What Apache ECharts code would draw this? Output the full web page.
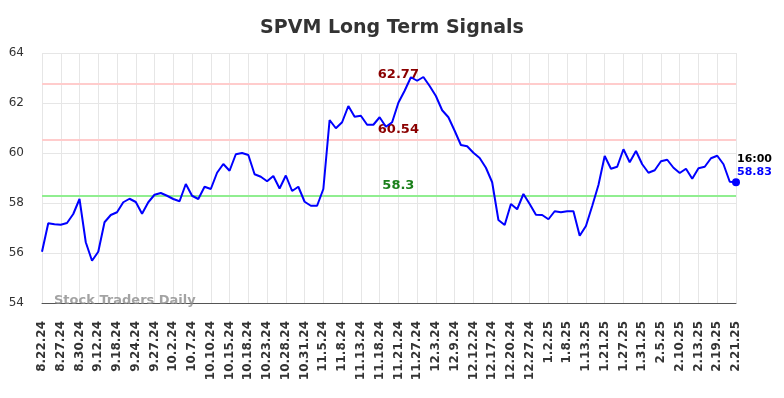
<!DOCTYPE html>
<html>
<head>
<meta charset="utf-8">
<script src="https://cdn.jsdelivr.net/npm/echarts@6/dist/echarts.min.js"></script>
<style>
  html, body { margin: 0; padding: 0; background: #fff; }
  #main { width: 784px; height: 398px; }
</style>
</head>
<body>
<div id="main"></div>
<script>
// dates (every 3rd one is shown on the axis)
const dates = [
  '8.22.24', '8.23.24', '8.26.24', '8.27.24', '8.28.24', '8.29.24', '8.30.24', '9.10.24', '9.11.24',
  '9.12.24', '9.13.24', '9.16.24', '9.18.24', '9.19.24', '9.23.24', '9.24.24', '9.25.24', '9.26.24',
  '9.27.24', '9.30.24', '10.1.24', '10.2.24', '10.3.24', '10.4.24', '10.7.24', '10.8.24', '10.9.24',
  '10.10.24', '10.11.24', '10.14.24', '10.15.24', '10.16.24', '10.17.24', '10.18.24', '10.21.24', '10.22.24',
  '10.23.24', '10.24.24', '10.25.24', '10.28.24', '10.29.24', '10.30.24', '10.31.24', '11.1.24', '11.4.24',
  '11.5.24', '11.6.24', '11.7.24', '11.8.24', '11.11.24', '11.12.24', '11.13.24', '11.14.24', '11.15.24',
  '11.18.24', '11.19.24', '11.20.24', '11.21.24', '11.22.24', '11.25.24', '11.27.24', '11.29.24', '12.2.24',
  '12.3.24', '12.4.24', '12.5.24', '12.9.24', '12.10.24', '12.11.24', '12.12.24', '12.13.24', '12.16.24',
  '12.17.24', '12.18.24', '12.19.24', '12.20.24', '12.23.24', '12.24.24', '12.27.24', '12.30.24', '12.31.24',
  '1.2.25', '1.3.25', '1.6.25', '1.8.25', '1.9.25', '1.10.25', '1.13.25', '1.14.25', '1.15.25',
  '1.21.25', '1.22.25', '1.24.25', '1.27.25', '1.28.25', '1.29.25', '1.31.25', '2.3.25', '2.4.25',
  '2.5.25', '2.6.25', '2.7.25', '2.10.25', '2.11.25', '2.12.25', '2.13.25', '2.14.25', '2.18.25',
  '2.19.25', '2.20.25', '2.21.25 09:30', '2.21.25'
];

// closing prices
const prices = [
  56.05, 57.19, 57.15, 57.13, 57.20, 57.56, 58.16, 56.43, 55.69,
  56.05, 57.23, 57.52, 57.63, 58.03, 58.17, 58.04, 57.57, 58.03,
  58.33, 58.40, 58.29, 58.16, 58.07, 58.76, 58.29, 58.16, 58.65,
  58.56, 59.21, 59.56, 59.29, 59.95, 60.00, 59.92, 59.15, 59.05,
  58.87, 59.08, 58.58, 59.10, 58.48, 58.65, 58.05, 57.89, 57.89,
  58.56, 61.32, 60.99, 61.23, 61.88, 61.45, 61.49, 61.13, 61.13,
  61.43, 61.05, 61.23, 62.01, 62.49, 63.03, 62.89, 63.04, 62.68,
  62.28, 61.71, 61.43, 60.89, 60.32, 60.27, 60.01, 59.80, 59.41,
  58.83, 57.32, 57.12, 57.96, 57.75, 58.36, 57.96, 57.53, 57.52,
  57.35, 57.67, 57.63, 57.67, 57.67, 56.69, 57.08, 57.88, 58.72,
  59.88, 59.37, 59.45, 60.15, 59.63, 60.08, 59.55, 59.21, 59.31,
  59.67, 59.73, 59.41, 59.20, 59.37, 58.97, 59.39, 59.45, 59.79,
  59.89, 59.55, 58.85, 58.83
];

// signal levels
const upperSignals = [62.77, 60.54];
const lowerSignals = [58.3];
const lastTime = '16:00';

const chart = echarts.init(document.getElementById('main'));

const lastIdx = prices.length - 1;
const labelIdx = 57; // where the level labels sit

const levelLines = upperSignals.map(v => ({
  yAxis: v, lineStyle: { color: '#ffcccc', width: 2, type: 'solid' }
})).concat(lowerSignals.map(v => ({
  yAxis: v, lineStyle: { color: '#90ee90', width: 2, type: 'solid' }
})));

const levelLabels = upperSignals.map(v => ({
  coord: [labelIdx, v], value: v,
  label: { color: '#8b0000' }
})).concat(lowerSignals.map(v => ({
  coord: [labelIdx, v], value: v,
  label: { color: '#1a7f1a' }
})));

const option = {
  animation: false,
  title: {
    text: 'SPVM Long Term Signals',
    left: 'center',
    top: 14,
    textStyle: { fontFamily: 'DejaVu Sans', fontSize: 19, fontWeight: 'bold', color: '#333' }
  },
  grid: { left: 42, right: 48, top: 53, bottom: 95 },
  xAxis: {
    type: 'category',
    data: dates,
    boundaryGap: false,
    axisLine: { lineStyle: { color: '#555', width: 1 } },
    axisTick: { show: false },
    axisLabel: {
      interval: 2,
      rotate: 90,
      margin: 18,
      fontFamily: 'DejaVu Sans',
      fontSize: 12,
      fontWeight: 'bold',
      color: '#333'
    },
    splitLine: { show: true, interval: 2, lineStyle: { color: '#e6e6e6', width: 1 } }
  },
  yAxis: {
    type: 'value',
    min: 54,
    max: 64,
    interval: 2,
    axisLine: { show: false },
    axisTick: { show: false },
    axisLabel: { margin: 18, fontFamily: 'DejaVu Sans', fontSize: 12, color: '#333' },
    splitLine: { lineStyle: { color: '#e6e6e6', width: 1 } }
  },
  graphic: [{
    type: 'text',
    left: 54,
    top: 294,
    style: {
      text: 'Stock Traders Daily',
      font: 'bold 13px "DejaVu Sans"',
      fill: 'rgba(140,140,140,0.8)'
    },
    z: 100
  }],
  series: [
    {
      type: 'line',
      data: prices,
      symbol: 'none',
      lineStyle: { color: '#0000ff', width: 2 },
      z: 5,
      markLine: {
        silent: true,
        symbol: 'none',
        label: { show: false },
        data: levelLines,
        z: 3
      }
    },
    {
      type: 'line',
      data: [],
      markPoint: {
        silent: true,
        symbol: 'circle',
        symbolSize: 0,
        label: {
          show: true,
          position: 'top',
          distance: 3,
          fontFamily: 'DejaVu Sans',
          fontSize: 13,
          fontWeight: 'bold',
          formatter: p => String(p.value)
        },
        data: levelLabels
      }
    },
    {
      type: 'line',
      data: [],
      z: 10,
      markPoint: {
        silent: true,
        symbol: 'circle',
        symbolSize: 8,
        itemStyle: { color: '#0000ff' },
        label: {
          show: true,
          position: [5, -26],
          align: 'left',
          verticalAlign: 'top',
          formatter: p => '{t|' + lastTime + '}\n{v|' + p.value + '}',
          rich: {
            t: { fontFamily: 'DejaVu Sans', fontSize: 11, fontWeight: 'bold', color: '#000', lineHeight: 13 },
            v: { fontFamily: 'DejaVu Sans', fontSize: 11, fontWeight: 'bold', color: '#0000ff', lineHeight: 13 }
          }
        },
        data: [{ coord: [lastIdx, prices[lastIdx]], value: prices[lastIdx] }]
      }
    }
  ]
};

chart.setOption(option);
</script>
</body>
</html>
